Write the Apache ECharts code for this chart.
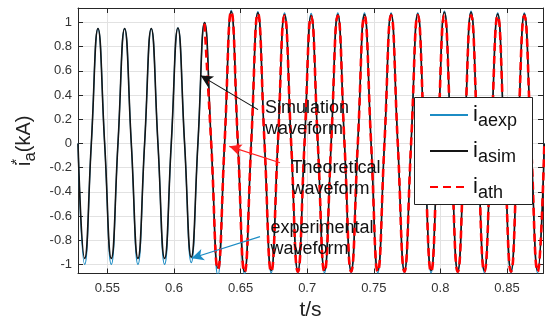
<!DOCTYPE html>
<html><head><meta charset="utf-8">
<script src="https://cdn.jsdelivr.net/npm/echarts@6/dist/echarts.min.js"></script>
<style>html,body{margin:0;padding:0;background:#fff}#c{width:550px;height:322px}</style>
</head><body><div id="c"></div><script>
// time samples (s): zero crossings and extrema of the 50 Hz waveform
const times = [0.528,0.533,0.538,0.543,0.548,0.553,0.558,0.563,0.568,0.573,0.578,0.583,0.588,0.593,0.598,0.603,0.608,0.613,0.618,0.623,
  0.628,0.633,0.638,0.643,0.648,0.653,0.658,0.663,0.668,0.673,0.678,0.683,0.688,0.693,0.698,0.703,0.708,0.713,0.718,0.723,
  0.728,0.733,0.738,0.743,0.748,0.753,0.758,0.763,0.768,0.773,0.778,0.783,0.788,0.793,0.798,0.803,0.808,0.813,0.818,0.823,
  0.828,0.833,0.838,0.843,0.848,0.853,0.858,0.863,0.868,0.873,0.878];
const simValues = [0,-0.95,0,0.95,0,-0.95,0,0.95,0,-0.95,0,0.95,0,-0.95,0,0.955,0,-0.94,0,1.0,
  0,-1.03,0,1.09,0,-1.06,0,1.08,0,-1.05,0,1.065,0,-1.05,0,1.06,0,-1.05,0,1.065,
  0,-1.05,0,1.065,0,-1.05,0,1.07,0,-1.05,0,1.07,0,-1.05,0,1.085,0,-1.05,0,1.085,
  0,-1.05,0,1.07,0,-1.05,0,1.07,0,-1.05,0];
const expValues = [0,-1.0,0,0.95,0,-1.0,0,0.95,0,-1.0,0,0.95,0,-1.0,0,0.955,0,-0.985,0,1.0,
  0,-1.09,0,1.1,0,-1.08,0,1.09,0,-1.07,0,1.08,0,-1.07,0,1.075,0,-1.07,0,1.08,
  0,-1.07,0,1.08,0,-1.07,0,1.08,0,-1.07,0,1.08,0,-1.07,0,1.095,0,-1.07,0,1.095,
  0,-1.07,0,1.08,0,-1.07,0,1.08,0,-1.07,0];
const thValues = [null,null,null,null,null,null,null,null,null,null,null,null,null,null,null,null,null,null,null,0.99,
  0,-1.04,0,1.09,0,-1.065,0,1.075,0,-1.06,0,1.055,0,-1.06,0,1.05,0,-1.06,0,1.055,
  0,-1.06,0,1.055,0,-1.06,0,1.06,0,-1.06,0,1.06,0,-1.06,0,1.06,0,-1.06,0,1.06,
  0,-1.06,0,1.055,0,-1.06,0,1.055,0,-1.06,0];
const xTicks = [0.55,0.6,0.65,0.7,0.75,0.8,0.85];
const yTicks = [-1,-0.8,-0.6,-0.4,-0.2,0,0.2,0.4,0.6,0.8,1];
const seriesNames = ['aexp','asim','ath'];
// annotation arrows: [tail, head, colour] in data coordinates
const arrows = [
  [[0.6631,0.28],[0.6201,0.561],'#111111'],
  [[0.6796,-0.16],[0.6416,-0.024],'#ff2020'],
  [[0.6646,-0.77],[0.6133,-0.949],'#1c8cc4']
];
const notes = [
  [[0.6684,0.209],'Simulation\nwaveform'],
  [[0.6882,-0.29],'Theoretical\nwaveform'],
  [[0.6725,-0.786],'experimental\nwaveform']
];

const FONT = 'Liberation Sans, Arial, Helvetica, sans-serif';
const pair = vals => times.map((t,i)=>[t, vals[i]]);
const chart = echarts.init(document.getElementById('c'), null, {renderer:'canvas'});
const axisCol = '#262626';
const fmt = v => String(parseFloat(Number(v).toFixed(2)));

chart.setOption({
  animation:false,
  backgroundColor:'#fff',
  textStyle:{fontFamily:FONT},
  grid:{left:78,right:7,top:8,bottom:48.5,containLabel:false,outerBoundsMode:'none'},
  graphic:[{type:'rect',left:414,top:97,z:40,silent:true,
    shape:{width:118,height:107},style:{fill:'#ffffff',stroke:'#222',lineWidth:1}}],
  legend:{
    orient:'vertical', left:414, top:100, z:50,
    padding:[0,16,0,15], itemGap:6, itemWidth:38, itemHeight:14,
    itemStyle:{opacity:0},
    data:seriesNames,
    formatter: n => '{i|i}{s|' + n + '}',
    textStyle:{fontFamily:FONT,color:'#111',
      rich:{
        i:{fontSize:22,lineHeight:22,verticalAlign:'middle',fontFamily:FONT,color:'#111'},
        s:{fontSize:18,lineHeight:30,padding:[12,0,0,0],verticalAlign:'bottom',fontFamily:FONT,color:'#111'}
      }}
  },
  xAxis:[{
    type:'value', min:0.528, max:0.877,
    name:'t/s', nameLocation:'middle', nameGap:25,
    nameTextStyle:{fontSize:21,color:'#222',fontFamily:FONT},
    axisLine:{show:true,onZero:false,lineStyle:{color:axisCol,width:1}},
    axisTick:{show:true,inside:true,length:5,customValues:xTicks,lineStyle:{color:axisCol}},
    axisLabel:{customValues:xTicks,formatter:fmt,fontSize:13,color:'#333',margin:8,fontFamily:FONT},
    splitLine:{show:true,lineStyle:{color:'#e2e2e2',width:1}}
  },{
    type:'value', min:0.528, max:0.877, position:'top',
    axisLine:{show:true,onZero:false,lineStyle:{color:axisCol,width:1}},
    axisTick:{show:true,inside:true,length:5,customValues:xTicks,lineStyle:{color:axisCol}},
    axisLabel:{show:false}, splitLine:{show:false}
  }],
  yAxis:[{
    type:'value', min:-1.075, max:1.12,
    name:'{i|i}{sup|*}{sub|a}{n|(kA)}', nameLocation:'middle', nameGap:38, nameRotate:90,
    nameTextStyle:{color:'#222',fontFamily:FONT,
      rich:{
        i:{fontSize:20,lineHeight:20,verticalAlign:'middle',fontFamily:FONT,color:'#222'},
        sup:{fontSize:14,lineHeight:28,padding:[0,0,14,0],verticalAlign:'top',width:0,fontFamily:FONT,color:'#222'},
        sub:{fontSize:17,lineHeight:29,padding:[12,0,0,0],verticalAlign:'bottom',fontFamily:FONT,color:'#222'},
        n:{fontSize:20,lineHeight:20,verticalAlign:'middle',fontFamily:FONT,color:'#222'}
      }},
    axisLine:{show:true,onZero:false,lineStyle:{color:axisCol,width:1}},
    axisTick:{show:true,inside:true,length:5,customValues:yTicks,lineStyle:{color:axisCol}},
    axisLabel:{customValues:yTicks,formatter:fmt,fontSize:13,color:'#333',margin:6,fontFamily:FONT},
    splitLine:{show:true,lineStyle:{color:'#e2e2e2',width:1}}
  },{
    type:'value', min:-1.075, max:1.12, position:'right',
    axisLine:{show:true,onZero:false,lineStyle:{color:axisCol,width:1}},
    axisTick:{show:true,inside:true,length:5,customValues:yTicks,lineStyle:{color:axisCol}},
    axisLabel:{show:false}, splitLine:{show:false}
  }],
  series:[
    {name:'aexp',type:'line',data:pair(expValues),smooth:0.5,symbol:'none',
      lineStyle:{color:'#1c8cc4',width:1.2},itemStyle:{color:'#1c8cc4'},z:2},
    {name:'asim',type:'line',data:pair(simValues),smooth:0.5,symbol:'none',
      lineStyle:{color:'#151515',width:1.6},itemStyle:{color:'#151515'},z:3,
      markLine:{silent:true,symbol:['none','arrow'],symbolSize:[9,12],animation:false,
        label:{show:false},
        data:arrows.map(a=>[{coord:a[0],lineStyle:{color:a[2],width:1.1,type:'solid'},itemStyle:{color:a[2]}},{coord:a[1]}])},
      markPoint:{silent:true,animation:false,
        data:notes.map(n=>({coord:n[0],symbol:'circle',symbolSize:0,
          label:{show:true,position:'right',distance:0,formatter:n[1],fontSize:18,lineHeight:21,
            color:'#111',fontFamily:FONT,align:'left'}}))}
    },
    {name:'ath',type:'line',data:pair(thValues),smooth:0.5,symbol:'none',
      lineStyle:{color:'#ff0000',width:2.6,type:[8,5]},itemStyle:{color:'#ff0000'},z:4}
  ]
});
</script></body></html>
